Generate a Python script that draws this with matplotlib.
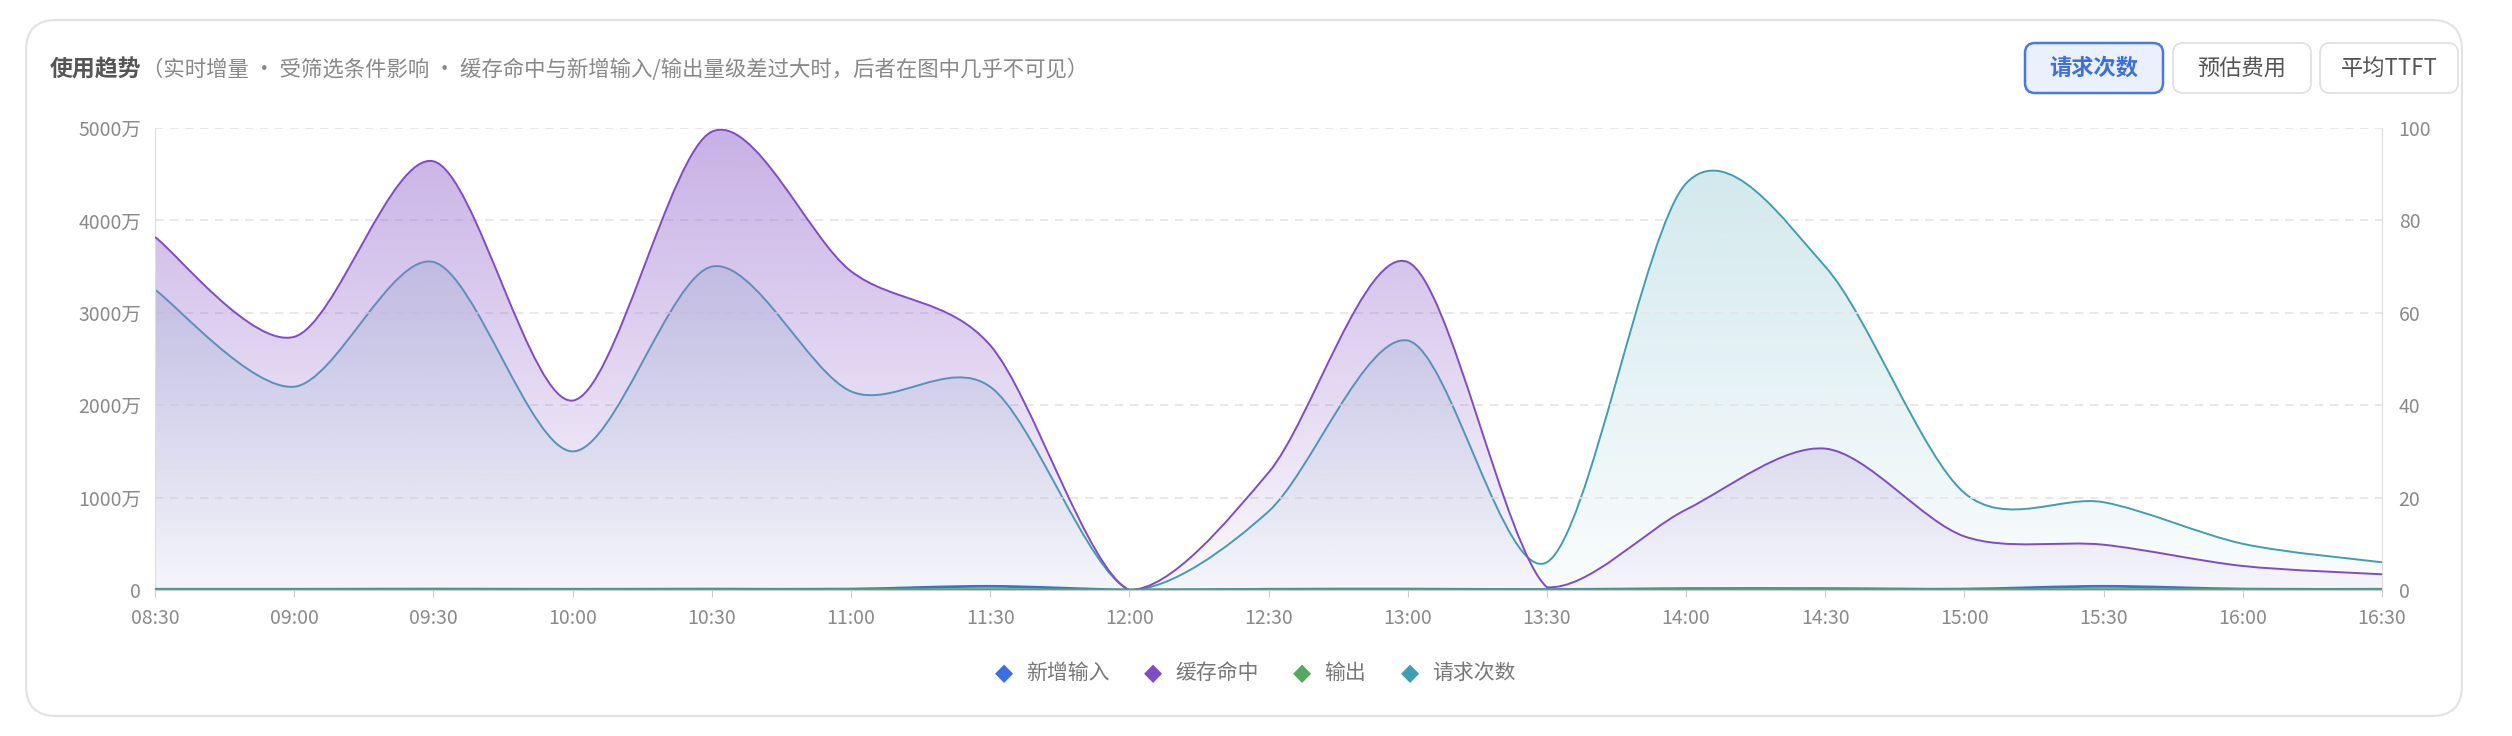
import numpy as np
import matplotlib
matplotlib.use('Agg')
from matplotlib import pyplot as plt
from matplotlib.path import Path
from matplotlib.patches import PathPatch, FancyBboxPatch

plt.rcParams['font.family'] = ['Noto Sans CJK SC', 'DejaVu Sans']

times = ['08:30', '09:00', '09:30', '10:00', '10:30', '11:00', '11:30', '12:00', '12:30',
         '13:00', '13:30', '14:00', '14:30', '15:00', '15:30', '16:00', '16:30']
# left axis, unit 万
new_input = [8, 8, 10, 8, 10, 10, 40, 0, 8, 10, 5, 15, 15, 10, 40, 10, 8]
cache_hit = [3820, 2740, 4640, 2050, 4960, 3450, 2650, 0, 1270, 3550, 30, 870, 1530, 580, 490, 260, 170]
output = [3, 3, 3, 3, 3, 3, 5, 0, 3, 3, 2, 4, 4, 3, 5, 3, 3]
# right axis
requests = [65, 44, 71, 30, 70, 43, 44, 0, 17, 54, 6, 88, 70, 21, 19, 10, 6]

C_NEW = '#3b6fe0'
C_CACHE = '#7f4cc4'
C_OUT = '#55a860'
C_REQ = '#3f9fb0'


def smooth_path(xs, ys, k=0.3, close=False):
    xs = np.asarray(xs, float)
    ys = np.asarray(ys, float)
    n = len(xs)
    verts = [(xs[0], ys[0])]
    codes = [Path.MOVETO]
    for i in range(n - 1):
        p0 = max(i - 1, 0)
        p3 = min(i + 2, n - 1)
        c1 = (xs[i] + k * (xs[i + 1] - xs[p0]) / 2, max(ys[i] + k * (ys[i + 1] - ys[p0]) / 2, 0))
        c2 = (xs[i + 1] - k * (xs[p3] - xs[i]) / 2, max(ys[i + 1] - k * (ys[p3] - ys[i]) / 2, 0))
        verts += [c1, c2, (xs[i + 1], ys[i + 1])]
        codes += [Path.CURVE4] * 3
    if close:
        verts += [(xs[-1], 0), (xs[0], 0), (xs[0], ys[0])]
        codes += [Path.LINETO, Path.LINETO, Path.CLOSEPOLY]
    return Path(verts, codes)


def gradient_fill(ax, xs, ys, top, c_top, a_top, a_bot):
    patch = PathPatch(smooth_path(xs, ys, close=True), fc='none', ec='none')
    ax.add_patch(patch)
    grad = np.zeros((256, 1, 4))
    grad[:, 0, :3] = matplotlib.colors.to_rgb(c_top)
    grad[:, 0, 3] = np.linspace(a_top, a_bot, 256)
    im = ax.imshow(grad, extent=(xs[0], xs[-1], 0, top), origin='upper', aspect='auto', zorder=1)
    im.set_clip_path(patch)


def line(ax, xs, ys, color, lw=1.4, z=3):
    ax.add_patch(PathPatch(smooth_path(xs, ys), fc='none', ec=color, lw=lw, zorder=z))


fig = plt.figure(figsize=(25.12, 7.36), dpi=100)
card = FancyBboxPatch((26 / 2512, 20 / 736), 2436 / 2512, 696 / 736,
                      boxstyle='round,pad=0,rounding_size=0.012', transform=fig.transFigure,
                      fc='white', ec='#e2e2e2', lw=1.5, mutation_aspect=2512 / 736, zorder=-10)
fig.patches.append(card)

ax = fig.add_axes([155 / 2512, 1 - 590 / 736, 2227 / 2512, 462 / 736])
ax2 = ax.twinx()
x = np.arange(len(times))

ax.set_xlim(0, len(times) - 1)
ax.set_ylim(0, 5000)
ax2.set_ylim(0, 100)

gradient_fill(ax2, x, requests, 100, C_REQ, 0.25, 0.03)
gradient_fill(ax, x, cache_hit, 5000, '#9a6fcf', 0.55, 0.04)
line(ax, x, cache_hit, C_CACHE)
line(ax2, x, requests, C_REQ)
line(ax, x, new_input, C_NEW, lw=2)
line(ax, x, output, C_OUT, lw=2)

for a in (ax, ax2):
    a.set_facecolor('none')
    for s in a.spines.values():
        s.set_visible(False)
ax.set_zorder(ax2.get_zorder() + 1)
ax.spines['left'].set_visible(True)
ax.spines['left'].set_color('#dddddd')
ax2.spines['right'].set_visible(True)
ax2.spines['right'].set_color('#dddddd')
ax.spines['bottom'].set_visible(True)
ax.spines['bottom'].set_color('#cccccc')

ax.set_yticks(range(0, 5001, 1000))
ax.set_yticklabels(['0'] + [f'{v}万' for v in range(1000, 5001, 1000)])
ax2.set_yticks(range(0, 101, 20))
ax.set_xticks(x)
ax.set_xticklabels(times)
for v in range(1000, 5001, 1000):
    ax.axhline(v, color='#e4e4e4', lw=1.2, ls=(0, (5, 4)), zorder=0)
ax.tick_params(axis='y', length=0, labelsize=14, labelcolor='#8a8a8a', pad=10)
ax2.tick_params(axis='y', length=0, labelsize=14, labelcolor='#8a8a8a', pad=12)
ax.tick_params(axis='x', length=5, color='#cccccc', labelsize=14, labelcolor='#8a8a8a', pad=8)

fig.text(50 / 2512, 1 - 70 / 736, '使用趋势', fontsize=16.5, fontweight='bold', color='#555555', va='center')
fig.text(142 / 2512, 1 - 70 / 736,
         '（实时增量 · 受筛选条件影响 · 缓存命中与新增输入/输出量级差过大时，后者在图中几乎不可见）',
         fontsize=15.4, color='#888888', va='center')

buttons = [('请求次数', 2025, 2163, True), ('预估费用', 2173, 2311, False), ('平均TTFT', 2320, 2458, False)]
for label, x0, x1, active in buttons:
    b = FancyBboxPatch((x0 / 2512, 1 - 93 / 736), (x1 - x0) / 2512, 50 / 736,
                       boxstyle='round,pad=0,rounding_size=0.004', transform=fig.transFigure,
                       fc='#eaf1fd' if active else 'white', ec='#4a78de' if active else '#e0e0e0',
                       lw=1.8 if active else 1.3, mutation_aspect=2512 / 736)
    fig.patches.append(b)
    fig.text((x0 + x1) / 2 / 2512, 1 - 68 / 736, label, ha='center', va='center', fontsize=16,
             color='#3f6fd8' if active else '#555555', fontweight='bold' if active else 'normal')

legend = [('新增输入', C_NEW), ('缓存命中', C_CACHE), ('输出', C_OUT), ('请求次数', C_REQ)]
lx = [1004, 1153, 1302, 1410]
for (label, c), px in zip(legend, lx):
    fig.text(px / 2512, 1 - 673 / 736, '◆', color=c, fontsize=17, ha='center', va='center',
             family=['DejaVu Sans'])
    fig.text((px + 22) / 2512, 1 - 673 / 736, label, color='#777777', fontsize=15, va='center')

fig.savefig('out.png', dpi=100, facecolor='white')
